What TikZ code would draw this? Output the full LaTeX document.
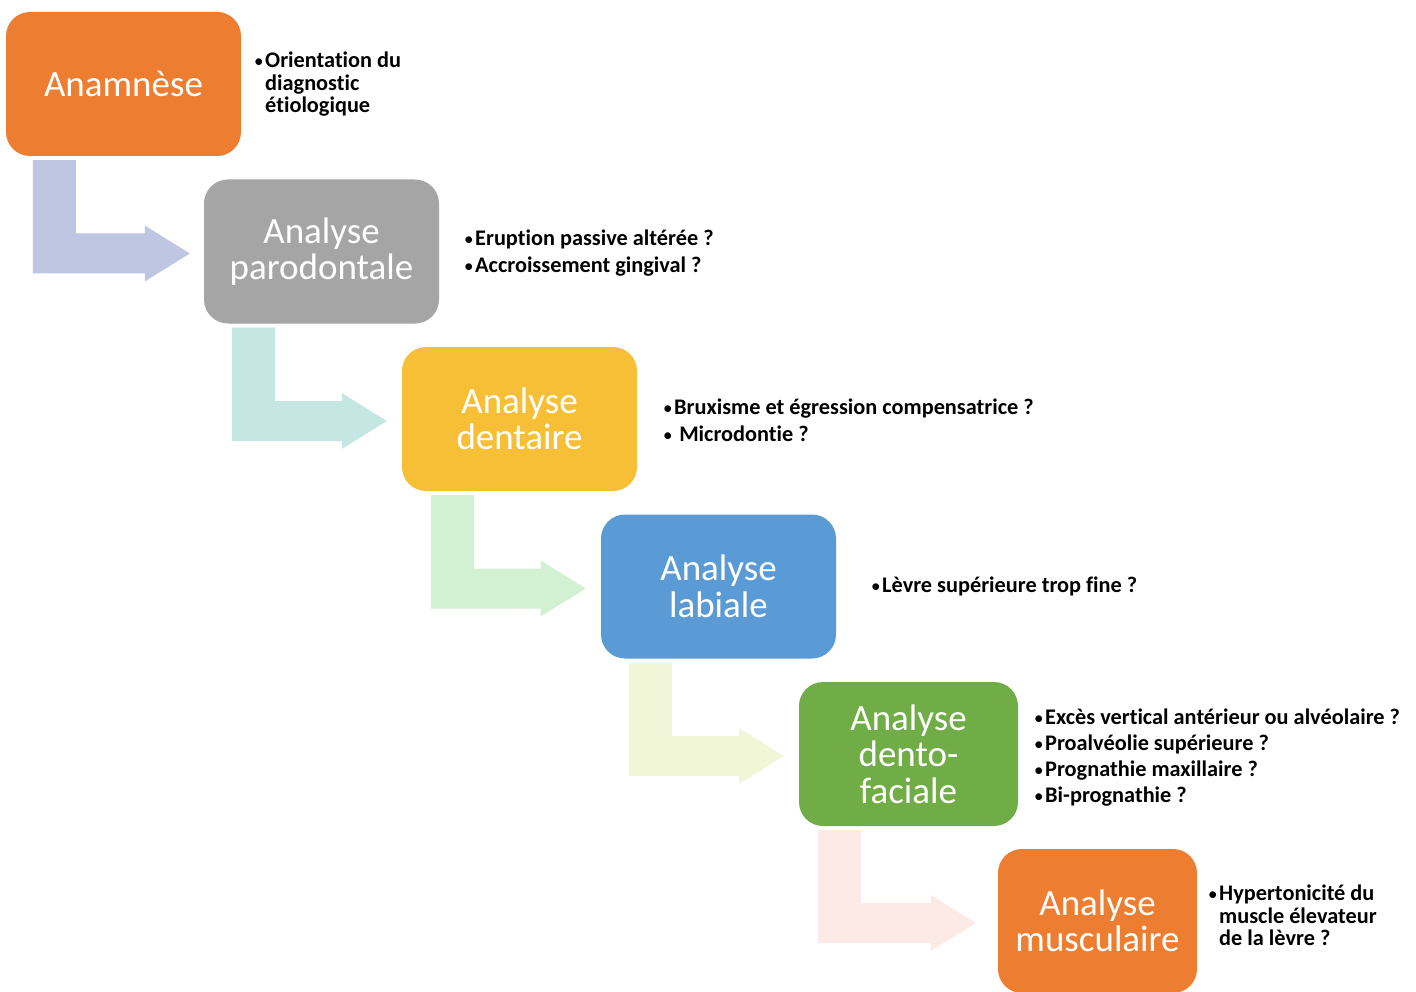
\documentclass[tikz,border=0pt]{standalone}
\usepackage{fontspec}
\setmainfont{Carlito}[Ligatures=NoCommon]
\usetikzlibrary{calc}
\definecolor{cOrange}{HTML}{ED7D31}
\definecolor{cGray}{HTML}{A5A5A5}
\definecolor{cYellow}{HTML}{F7BF36}
\definecolor{cBlue}{HTML}{5B9BD5}
\definecolor{cGreen}{HTML}{70AD47}
\definecolor{aOne}{HTML}{BEC6E2}
\definecolor{aTwo}{HTML}{C5E7E3}
\definecolor{aThree}{HTML}{D2F0D2}
\definecolor{aFour}{HTML}{F2F6D9}
\definecolor{aFive}{HTML}{FBEAE6}
% #1 colour, #2 from node, #3 to node, #4 stem x offset, #5 gap before target
\newcommand\bentarr[5]{%
  \fill[#1] let \p1=($(#2.south west)+(#4,4)$), \p2=($(#3.west)+(-#5,2)$) in
    (\x1,\y1) -- (\x1+43pt,\y1) -- (\x1+43pt,\y2+20pt) -- (\x2-45pt,\y2+20pt)
    -- (\x2-45pt,\y2+28pt) -- (\x2,\y2) -- (\x2-45pt,\y2-28pt)
    -- (\x2-45pt,\y2-20pt) -- (\x1,\y2-20pt) -- cycle;}
\newcommand\bul{\makebox[11pt][l]{\mdseries\fontsize{19}{19}\selectfont•}}
\newcommand\nob{\hspace*{11pt}}
\begin{document}
\begin{tikzpicture}[x=1pt,y=-1pt,
  stagebox/.style={rounded corners=24pt, inner sep=0pt, minimum width=235pt,
    minimum height=144pt, align=center, text=white,
    font=\fontsize{37}{36.5}\selectfont},
  notes/.style={anchor=west, inner sep=0pt, align=left, text=black,
    font=\bfseries\fontsize{22.3}{22.5}\selectfont}]
\useasboundingbox (0,0) rectangle (1416,992);
\fill[white] (0,0) rectangle (1416,992);

\node[stagebox, fill=cOrange] (b1) at (123.5,84) {Anamnèse};
\node[stagebox, fill=cGray] (b2) at (321.5,251.5) {Analyse\\parodontale};
\node[stagebox, fill=cYellow] (b3) at (519.5,419) {Analyse\\dentaire};
\node[stagebox, fill=cBlue] (b4) at (718.5,586.5) {Analyse\\labiale};
\node[stagebox, fill=cGreen, minimum width=219pt] (b5) at (908.5,754) {Analyse\\dento-\\faciale};
\node[stagebox, fill=cOrange, minimum width=199pt] (b6) at (1097.5,921) {Analyse\\musculaire};

\bentarr{aOne}{b1}{b2}{27}{14}
\bentarr{aTwo}{b2}{b3}{28}{15}
\bentarr{aThree}{b3}{b4}{29}{15}
\bentarr{aFour}{b4}{b5}{28}{15}
\bentarr{aFive}{b5}{b6}{19}{22}

\node[notes] (t1) at (254,84.5) {\bul Orientation du\\\nob diagnostic\\\nob étiologique};
\node[notes] (t2) at (464,253) {\bul Eruption passive altérée ?\\[4.5pt]\bul Accroissement gingival ?};
\node[notes] (t3) at (663,420) {\bul Bruxisme et égression compensatrice ?\\[4.5pt]\bul\ Microdontie ?};
\node[notes] (t4) at (871,586.5) {\bul Lèvre supérieure trop fine ?};
\node[notes] (t5) at (1034,757.5) {\bul Excès vertical antérieur ou alvéolaire ?\\[3.5pt]\bul Proalvéolie supérieure ?\\[3.5pt]\bul Prognathie maxillaire ?\\[3.5pt]\bul Bi-prognathie ?};
\node[notes] (t6) at (1208,915.5) {\bul Hypertonicité du\\\nob muscle élevateur\\\nob de la lèvre ?};
\end{tikzpicture}
\end{document}
